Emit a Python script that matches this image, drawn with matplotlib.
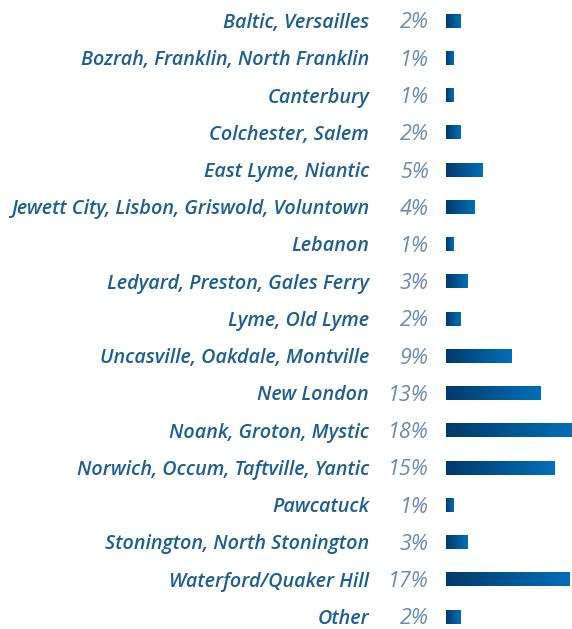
import numpy as np
import matplotlib
matplotlib.use("Agg")
import matplotlib.pyplot as plt
from matplotlib.colors import LinearSegmentedColormap
import matplotlib.transforms as mtransforms
from matplotlib import font_manager

categories = [
    "Baltic, Versailles",
    "Bozrah, Franklin, North Franklin",
    "Canterbury",
    "Colchester, Salem",
    "East Lyme, Niantic",
    "Jewett City, Lisbon, Griswold, Voluntown",
    "Lebanon",
    "Ledyard, Preston, Gales Ferry",
    "Lyme, Old Lyme",
    "Uncasville, Oakdale, Montville",
    "New London",
    "Noank, Groton, Mystic",
    "Norwich, Occum, Taftville, Yantic",
    "Pawcatuck",
    "Stonington, North Stonington",
    "Waterford/Quaker Hill",
    "Other",
]
values = [2, 1, 1, 2, 5, 4, 1, 3, 2, 9, 13, 18, 15, 1, 3, 17, 2]

W, H = 572, 629
fig = plt.figure(figsize=(W / 100, H / 100), dpi=100)
fig.patch.set_facecolor("white")

x0 = 446
ax = fig.add_axes([x0 / W, 0, (W - x0) / W, 1])
ax.set_axis_off()

px_per_pct = 7.25
row_top = 21
row_step = 37.25
n = len(categories)
xlim = (0, (W - x0) / px_per_pct)
ylim = (n - 1 + (H - (row_top + (n - 1) * row_step)) / row_step, -row_top / row_step)

cmap = LinearSegmentedColormap.from_list("g", ["#003a6b", "#0070b9"])
grad = np.linspace(0, 1, 256).reshape(1, -1)
bh = 0.35
for i, v in enumerate(values):
    ax.imshow(grad, cmap=cmap, aspect="auto",
              extent=[0, v, i + bh / 2, i - bh / 2], interpolation="bilinear")
ax.set_xlim(*xlim)
ax.set_ylim(*ylim)

trans = mtransforms.blended_transform_factory(fig.transFigure, ax.transData)
trans = trans + mtransforms.ScaledTranslation(0, -2.0 / 100, fig.dpi_scale_trans)
fp = font_manager.FontProperties(family="Open Sans", style="italic", weight="semibold", size=14.2)
fp2 = font_manager.FontProperties(family="Open Sans", style="italic", weight="normal", size=15.5)
for i, (c, v) in enumerate(zip(categories, values)):
    fig.text(369 / W, i, c, transform=trans, ha="right", va="center",
             fontproperties=fp, color="#1d5f8f")
    fig.text(429 / W, i, f"{v}%", transform=trans, ha="right", va="center",
             fontproperties=fp2, color="#6a8bb3")

fig.savefig("out.png", dpi=100, facecolor="white")
